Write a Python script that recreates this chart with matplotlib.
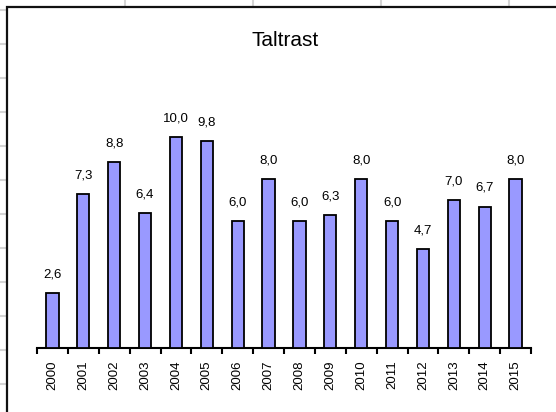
import matplotlib
matplotlib.use('Agg')
import matplotlib.pyplot as plt
from matplotlib.patches import Rectangle
from matplotlib.lines import Line2D

# data
years = ['2000', '2001', '2002', '2003', '2004', '2005', '2006', '2007',
         '2008', '2009', '2010', '2011', '2012', '2013', '2014', '2015']
values = [2.6, 7.3, 8.8, 6.4, 10.0, 9.8, 6.0, 8.0,
          6.0, 6.3, 8.0, 6.0, 4.7, 7.0, 6.7, 8.0]
title = 'Taltrast'

W, H = 556, 412
plt.rcParams['font.family'] = ['Liberation Sans', 'DejaVu Sans']

fig = plt.figure(figsize=(W / 100, H / 100), dpi=100)
fig.patch.set_facecolor('white')

def fx(x):
    return x / W

def fy(y):
    return 1 - y / H

# spreadsheet cell lines behind the chart
grid_col = '#d4d4d4'
for gx in [125, 253, 381, 509]:
    fig.add_artist(Line2D([fx(gx), fx(gx)], [fy(0), fy(7)], color=grid_col, lw=1.5, zorder=-6))
for gy in range(10, 400, 34):
    fig.add_artist(Line2D([fx(0), fx(7)], [fy(gy), fy(gy)], color=grid_col, lw=1.5, zorder=-6))

# chart frame (runs off the right and bottom of the picture)
fig.add_artist(Rectangle((fx(7), fy(430)), fx(600), fy(7) - fy(430),
                         transform=fig.transFigure, facecolor='white',
                         edgecolor='#111111', lw=1.6, zorder=-5))

# plot area in pixels
left, right, base = 37, 531, 348
ymax = 12
ppu = 21.1
top = base - ymax * ppu
ax = fig.add_axes([fx(left), fy(base), fx(right) - fx(left), fy(top) - fy(base)])
ax.patch.set_alpha(0)

xs = list(range(len(years)))
ax.bar(xs, values, width=0.4, color='#9999ff', edgecolor='black', linewidth=1.3, zorder=3)
for x, v in zip(xs, values):
    ax.annotate(f'{v:.1f}'.replace('.', ','), (x, v), xytext=(0, 13.5), textcoords='offset points',
                ha='center', va='center', fontsize=9.5, color='black')

ax.set_xlim(-0.5, len(years) - 0.5)
ax.set_ylim(0, ymax)
for s in ['left', 'right', 'top']:
    ax.spines[s].set_visible(False)
ax.spines['bottom'].set_linewidth(1.5)
ax.set_yticks([])
ax.set_xticks([i - 0.5 for i in range(len(years) + 1)])
ax.set_xticklabels([])
ax.tick_params(axis='x', which='major', length=4, width=1.5, direction='out')
ax.set_xticks(xs, minor=True)
ax.set_xticklabels(years, minor=True, rotation=90, fontsize=9.5)
ax.tick_params(axis='x', which='minor', length=0, pad=9)

fig.text(fx(285), fy(41), title, ha='center', va='center', fontsize=15)

fig.savefig('out.png', dpi=100)
